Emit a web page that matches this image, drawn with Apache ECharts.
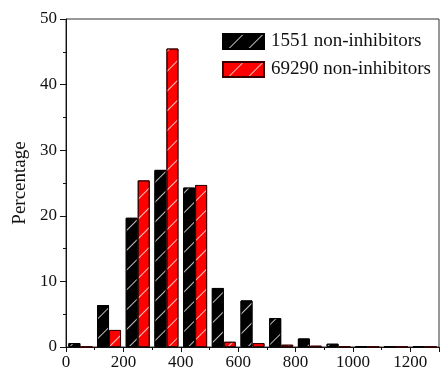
<!DOCTYPE html>
<html>
<head>
<meta charset="utf-8">
<script src="https://cdn.jsdelivr.net/npm/echarts@6/dist/echarts.min.js"></script>
<style>
  html, body { margin: 0; padding: 0; background: #ffffff; }
  #chart { width: 442px; height: 372px; }
</style>
</head>
<body>
<div id="chart"></div>
<script>
// bin centres (bins of width 100)
const BIN_CENTERS = [50, 150, 250, 350, 450, 550, 650, 750, 850, 950, 1050, 1150, 1250];
const SMALL_SET = [0.6, 6.4, 19.7, 27.0, 24.3, 9.0, 7.1, 4.4, 1.3, 0.5, 0.1, 0.1, 0.1];
const LARGE_SET = [0.0, 2.6, 25.4, 45.5, 24.7, 0.8, 0.6, 0.35, 0.2, 0.1, 0.05, 0.05, 0.05];
const SERIES_NAMES = ["1551 non-inhibitors", "69290 non-inhibitors"];

const FONT = "'Liberation Serif', 'Times New Roman', serif";

const hatch = {
  symbol: "rect",
  symbolSize: 1,
  color: "rgba(255,255,255,0.75)",
  dashArrayX: [1, 0],
  dashArrayY: [1, 13],
  rotation: -Math.PI / 4
};

function pairs(values) {
  return BIN_CENTERS.map((x, i) => [x, values[i]]);
}

const chart = echarts.init(document.getElementById("chart"));

chart.setOption({
  animation: false,
  backgroundColor: "#ffffff",
  grid: {
    left: 66,
    top: 19,
    right: 1,
    bottom: 25,
    show: true,
    borderColor: "#333333",
    borderWidth: 1
  },
  legend: {
    orient: "vertical",
    left: 222,
    top: 32,
    padding: 0,
    icon: "rect",
    itemWidth: 41,
    itemHeight: 15,
    itemGap: 9,
    textStyle: { fontFamily: FONT, fontSize: 19, color: "#111111", padding: [0, 0, 0, 2] },
    data: SERIES_NAMES
  },
  xAxis: {
    type: "value",
    min: 0,
    max: 1300,
    interval: 200,
    axisLine: { lineStyle: { color: "#111111", width: 1 } },
    axisTick: { show: true, length: 5, lineStyle: { color: "#111111" } },
    minorTick: { show: true, splitNumber: 2, length: 3, lineStyle: { color: "#111111" } },
    splitLine: { show: false },
    axisLabel: {
      fontFamily: FONT,
      fontSize: 17,
      color: "#111111",
      margin: 7,
      formatter: v => (v > 1200 ? "" : String(v))
    }
  },
  yAxis: {
    type: "value",
    min: 0,
    max: 50,
    interval: 10,
    name: "Percentage",
    nameLocation: "middle",
    nameGap: 30,
    nameTextStyle: { fontFamily: FONT, fontSize: 19, color: "#111111" },
    axisLine: { show: true, lineStyle: { color: "#111111", width: 1 } },
    axisTick: { show: true, length: 6, lineStyle: { color: "#111111" } },
    minorTick: { show: true, splitNumber: 2, length: 3, lineStyle: { color: "#111111" } },
    splitLine: { show: false },
    axisLabel: {
      fontFamily: FONT,
      fontSize: 17,
      color: "#111111",
      margin: 9
    }
  },
  series: [
    {
      name: SERIES_NAMES[0],
      type: "bar",
      barWidth: 12,
      barGap: "0%",
      data: pairs(SMALL_SET),
      itemStyle: {
        color: "#000000",
        borderColor: "#000000",
        borderWidth: 1,
        decal: hatch
      }
    },
    {
      name: SERIES_NAMES[1],
      type: "bar",
      barWidth: 12,
      barGap: "0%",
      data: pairs(LARGE_SET),
      itemStyle: {
        color: "#ff0000",
        borderColor: "#3a0000",
        borderWidth: 1,
        decal: hatch
      }
    }
  ]
});
</script>
</body>
</html>
